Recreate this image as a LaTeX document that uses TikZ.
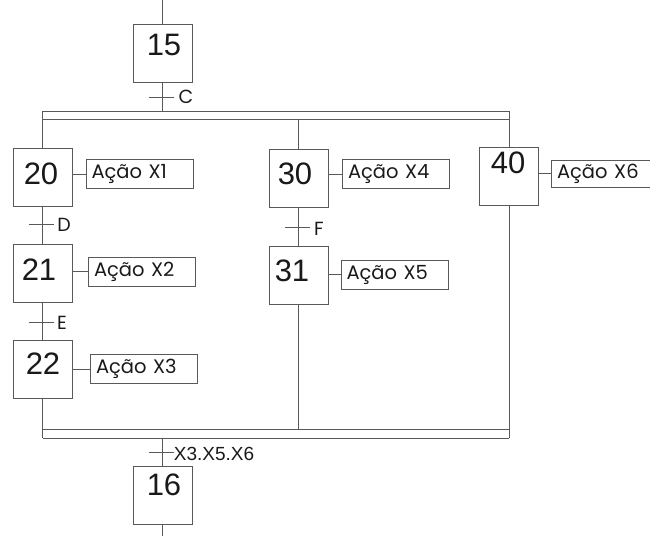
\documentclass[tikz,border=0pt]{standalone}
\usepackage{fontspec}
\setmainfont{Liberation Sans}
\newfontfamily\actfont{Poppins}
\begin{document}
\begin{tikzpicture}[x=1pt,y=-1pt,
  ln/.style={draw=black!65,line width=0.8pt},
  stepbox/.style={ln,rectangle,minimum width=59pt,minimum height=58pt,inner sep=0pt},
  num/.style={inner sep=0pt,font=\fontsize{31}{31}\selectfont,text=black!90},
  actbox/.style={ln,rectangle,text width=96pt,inner xsep=5.5pt,inner ysep=0pt,minimum height=29pt,align=left,font=\actfont\fontsize{19.5}{19.5}\selectfont,text=black!90},
  trlabel/.style={inner sep=0pt,font=\actfont\fontsize{19}{19}\selectfont,text=black!90},
  trlabelb/.style={inner sep=0pt,font=\fontsize{19}{19}\selectfont,text=black!90}]
\useasboundingbox (0,0) rectangle (650,536);

% steps
\node[stepbox] (s15) at (162.5,53) {};
\node[stepbox] (s20) at (42.5,177.5) {};
\node[stepbox] (s21) at (42.5,273.5) {};
\node[stepbox] (s22) at (42.5,369) {};
\node[stepbox] (s30) at (298.5,178.5) {};
\node[stepbox] (s31) at (298.5,275) {};
\node[stepbox] (s40) at (509,176.5) {};
\node[stepbox] (s16) at (162.5,495) {};

% step numbers
\node[num] (n15) at (164,45) {15};
\node[num] (n20) at (41,173.5) {20};
\node[num] (n21) at (39,270) {21};
\node[num] (n22) at (43,363.5) {22};
\node[num] (n30) at (295,173.5) {30};
\node[num] (n31) at (292,271) {31};
\node[num] (n40) at (508,162.5) {40};
\node[num] (n16) at (164,485) {16};

% actions
\node[actbox] (a1) at (139.5,174) {Ação X1};
\node[actbox] (a2) at (142,271.5) {Ação X2};
\node[actbox] (a3) at (144,369) {Ação X3};
\node[actbox] (a4) at (396,174) {Ação X4};
\node[actbox] (a5) at (394.5,274.5) {Ação X5};
\node[actbox,minimum height=27pt] (a6) at (605,173.5) {Ação X6};

\foreach \s/\a in {s20/a1,s21/a2,s22/a3,s30/a4,s31/a5,s40/a6}
  \draw[ln] (\s.east |- \a.west) -- (\a.west);

% coordinates
\coordinate (top) at (162.5,0);
\coordinate (bot) at (162.5,536);
\coordinate (dC) at (162.5,111);
\coordinate (dL1) at (42.5,111);
\coordinate (dR1) at (509,111);
\coordinate (dL2) at (42.5,119);
\coordinate (dR2) at (509,119);
\coordinate (dM) at (298.5,119);
\coordinate (cL1) at (42.5,429);
\coordinate (cR1) at (509,429);
\coordinate (cL2) at (42.5,438);
\coordinate (cR2) at (509,438);
\coordinate (cM) at (298.5,429);
\coordinate (cC) at (162.5,438);

% links
\draw[ln] (top) -- (s15.north);
\draw[ln] (s15.south) -- (dC);
\draw[ln] (dL1) -- (dR1);
\draw[ln] (dL2) -- (dR2);
\draw[ln] (dL1) -- (s20.north);
\draw[ln] (dM) -- (s30.north);
\draw[ln] (dR1) -- (s40.north);
\draw[ln] (s20.south) -- (s21.north);
\draw[ln] (s21.south) -- (s22.north);
\draw[ln] (s30.south) -- (s31.north);
\draw[ln] (cL1) -- (cR1);
\draw[ln] (cL2) -- (cR2);
\draw[ln] (s22.south) -- (cL2);
\draw[ln] (s31.south) -- (cM);
\draw[ln] (s40.south) -- (cR2);
\draw[ln] (cC) -- (s16.north);
\draw[ln] (s16.south) -- (bot);

% transitions
\coordinate (tC) at (162.5,97);
\coordinate (tD) at (42.5,224);
\coordinate (tE) at (42.5,322);
\coordinate (tF) at (298.5,227);
\coordinate (tX) at (162.5,452);
\foreach \t in {tC,tD,tE,tF,tX}
  \draw[ln] ([xshift=-14pt]\t) -- ([xshift=11pt]\t);
\node[trlabel] (lC) at (186,97) {C};
\node[trlabel] (lD) at (64,225) {D};
\node[trlabel] (lE) at (62,323) {E};
\node[trlabel] (lF) at (319,229) {F};
\node[trlabelb] (lX) at (214,454) {X3.X5.X6};
\end{tikzpicture}
\end{document}
